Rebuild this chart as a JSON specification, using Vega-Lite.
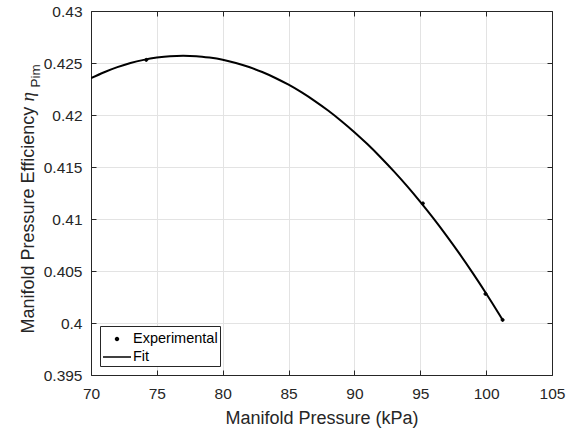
{
  "$schema": "https://vega.github.io/schema/vega-lite/v6.json",
  "width": 461,
  "height": 364,
  "autosize": {"type": "none"},
  "padding": {"left": 91, "top": 11, "right": 21, "bottom": 57},
  "background": "white",
  "datasets": {
    "fit": [
      {"p": 70, "eff": 0.42354}, {"p": 71, "eff": 0.42411}, {"p": 72, "eff": 0.42460},
      {"p": 73, "eff": 0.42500}, {"p": 74, "eff": 0.42530}, {"p": 75, "eff": 0.42552},
      {"p": 76, "eff": 0.42566}, {"p": 77, "eff": 0.42570}, {"p": 78, "eff": 0.42566},
      {"p": 79, "eff": 0.42552}, {"p": 80, "eff": 0.42531}, {"p": 81, "eff": 0.42500},
      {"p": 82, "eff": 0.42461}, {"p": 83, "eff": 0.42413}, {"p": 84, "eff": 0.42356},
      {"p": 85, "eff": 0.42291}, {"p": 86, "eff": 0.42217}, {"p": 87, "eff": 0.42134},
      {"p": 88, "eff": 0.42043}, {"p": 89, "eff": 0.41943}, {"p": 90, "eff": 0.41835},
      {"p": 91, "eff": 0.41718}, {"p": 92, "eff": 0.41592}, {"p": 93, "eff": 0.41458},
      {"p": 94, "eff": 0.41316}, {"p": 95, "eff": 0.41165}, {"p": 96, "eff": 0.41006},
      {"p": 97, "eff": 0.40838}, {"p": 98, "eff": 0.40662}, {"p": 99, "eff": 0.40477},
      {"p": 100, "eff": 0.40284}, {"p": 101, "eff": 0.40082}, {"p": 101.3, "eff": 0.40020}
    ],
    "experimental": [
      {"p": 74.2, "eff": 0.4253, "series": "Experimental"},
      {"p": 95.2, "eff": 0.4115, "series": "Experimental"},
      {"p": 99.95, "eff": 0.4028, "series": "Experimental"},
      {"p": 101.25, "eff": 0.4003, "series": "Experimental"}
    ]
  },
  "config": {
    "font": "Liberation Sans",
    "view": {"stroke": null},
    "axis": {
      "domainColor": "#262626",
      "domainWidth": 1,
      "tickColor": "#262626",
      "tickWidth": 1,
      "tickSize": -5,
      "gridColor": "#e3e3e3",
      "gridWidth": 1,
      "labelColor": "#262626",
      "labelFontSize": 15.5,
      "labelFont": "Liberation Sans",
      "titleColor": "#262626",
      "titleFont": "Liberation Sans",
      "titleFontSize": 18,
      "titleFontWeight": "normal",
      "labelFlush": false,
      "labelOverlap": false,
      "labelBound": false
    },
    "legend": {
      "orient": "bottom-left",
      "offset": 9,
      "padding": 2,
      "strokeColor": "#262626",
      "fillColor": "white",
      "labelFont": "Liberation Sans",
      "labelFontSize": 14.5,
      "labelColor": "black",
      "labelOffset": 5,
      "rowPadding": 0,
      "symbolSize": 400,
      "symbolOffset": 4,
      "cornerRadius": 0
    }
  },
  "resolve": {"axis": {"x": "independent", "y": "independent"}},
  "layer": [
    {
      "data": {"name": "fit"},
      "mark": {"type": "line", "color": "black", "strokeWidth": 2, "interpolate": "monotone", "clip": true},
      "encoding": {
        "x": {
          "field": "p", "type": "quantitative",
          "scale": {"domain": [70, 105], "nice": false, "zero": false},
          "axis": {
            "orient": "bottom",
            "values": [70, 75, 80, 85, 90, 95, 100, 105],
            "format": "d",
            "grid": true,
            "labelPadding": 16,
            "title": "Manifold Pressure (kPa)",
            "titleBaseline": "alphabetic",
            "titleY": 48.5
          }
        },
        "y": {
          "field": "eff", "type": "quantitative",
          "scale": {"domain": [0.395, 0.43], "nice": false, "zero": false},
          "axis": {
            "orient": "left",
            "values": [0.395, 0.4, 0.405, 0.41, 0.415, 0.42, 0.425, 0.43],
            "format": ".3~f",
            "grid": true,
            "labelPadding": 14,
            "title": "Manifold Pressure Efficiency",
            "titleAngle": -90,
            "titleAlign": "left",
            "titleBaseline": "alphabetic",
            "titleX": -58,
            "titleY": 322
          }
        }
      }
    },
    {
      "data": {"name": "experimental"},
      "mark": {"type": "point", "filled": true, "color": "black", "stroke": "black", "strokeWidth": 1, "opacity": 1, "size": 400},
      "encoding": {
        "x": {
          "field": "p", "type": "quantitative",
          "scale": {"domain": [70, 105], "nice": false, "zero": false},
          "axis": {
            "orient": "top",
            "values": [70, 75, 80, 85, 90, 95, 100, 105],
            "labels": false,
            "grid": false,
            "title": "Pim",
            "titleFont": "Liberation Sans",
            "titleFontSize": 13.5,
            "titleAngle": -90,
            "titleAlign": "left",
            "titleBaseline": "alphabetic",
            "titleX": -51.5,
            "titleY": 76
          }
        },
        "y": {
          "field": "eff", "type": "quantitative",
          "scale": {"domain": [0.395, 0.43], "nice": false, "zero": false},
          "axis": {
            "orient": "right",
            "values": [0.395, 0.4, 0.405, 0.41, 0.415, 0.42, 0.425, 0.43],
            "labels": false,
            "grid": false,
            "title": "η",
            "titleFont": "Liberation Serif",
            "titleFontStyle": "italic",
            "titleFontSize": 19,
            "titleAngle": -90,
            "titleAlign": "left",
            "titleBaseline": "alphabetic",
            "titleX": -519,
            "titleY": 90
          }
        },
        "shape": {
          "field": "series", "type": "nominal",
          "scale": {
            "domain": ["Experimental", "Fit"],
            "range": ["M-0.15,0A0.15,0.15 0 1,0 0.15,0A0.15,0.15 0 1,0 -0.15,0Z", "M-1.4,0L1.4,0"]
          },
          "legend": {
            "title": null,
            "encode": {
              "symbols": {
                "update": {
                  "fill": {"value": "black"},
                  "stroke": {"value": "black"},
                  "strokeWidth": {"value": 1.5},
                  "opacity": {"value": 1}
                }
              }
            }
          }
        }
      }
    }
  ]
}
